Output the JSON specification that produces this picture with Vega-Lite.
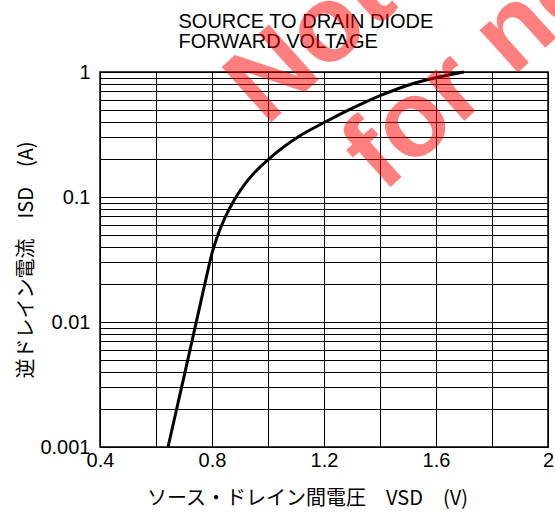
{
  "$schema": "https://vega.github.io/schema/vega-lite/v6.json",
  "autosize": {"type": "none"},
  "padding": {"left": 100, "top": 72, "right": 7, "bottom": 68},
  "width": 448,
  "height": 375,
  "background": "white",
  "config": {
    "view": {"stroke": "black", "strokeWidth": 1.5},
    "axis": {
      "domain": false,
      "ticks": false,
      "grid": true,
      "gridColor": "black",
      "gridOpacity": 1,
      "gridWidth": 1,
      "labelFont": "Liberation Sans",
      "labelFontSize": 20,
      "labelColor": "black",
      "labelFlush": false,
      "labelOverlap": false,
      "labelBound": false,
      "titleFont": "Noto Sans CJK JP",
      "titleFontSize": 20,
      "titleFontWeight": "normal",
      "titleColor": "black"
    }
  },
  "datasets": {
    "curve": [
      {"vsd": 0.643, "isd": 0.001},
      {"vsd": 0.7, "isd": 0.00366},
      {"vsd": 0.75, "isd": 0.0115},
      {"vsd": 0.78, "isd": 0.0229},
      {"vsd": 0.8, "isd": 0.0355},
      {"vsd": 0.82, "isd": 0.049},
      {"vsd": 0.846, "isd": 0.068},
      {"vsd": 0.88, "isd": 0.095},
      {"vsd": 0.929, "isd": 0.137},
      {"vsd": 1.007, "isd": 0.205},
      {"vsd": 1.107, "isd": 0.302},
      {"vsd": 1.204, "isd": 0.398},
      {"vsd": 1.311, "isd": 0.525},
      {"vsd": 1.407, "isd": 0.655},
      {"vsd": 1.525, "isd": 0.817},
      {"vsd": 1.61, "isd": 0.912},
      {"vsd": 1.7, "isd": 1.0}
    ],
    "stamp": [
      {"wx": 0.993, "wy": 0.363, "t": "Not recommended"},
      {"wx": 1.411, "wy": 0.106, "t": "for new design"}
    ]
  },
  "resolve": {"axis": {"x": "independent"}},
  "layer": [
    {
      "data": {"name": "curve"},
      "mark": {"type": "line", "color": "black", "strokeWidth": 3, "interpolate": "monotone"},
      "encoding": {
        "x": {
          "field": "vsd",
          "type": "quantitative",
          "scale": {"domain": [0.4, 2.0], "nice": false, "zero": false},
          "axis": {
            "title": "ソース・ドレイン間電圧　VSD　(V)",
            "values": [0.4, 0.6, 0.8, 1.0, 1.2, 1.4, 1.6, 1.8, 2.0],
            "format": "~g",
            "labelExpr": "indexof([0.4, 0.8, 1.2, 1.6, 2], datum.value) >= 0 ? datum.label : ''",
            "labelPadding": 3,
            "titlePadding": 18,
            "titleX": 207,
            "zindex": 0
          }
        },
        "y": {
          "field": "isd",
          "type": "quantitative",
          "scale": {"type": "log", "domain": [0.001, 1], "nice": false},
          "axis": {
            "title": "逆ドレイン電流　ISD　(A)",
            "values": [0.001, 0.002, 0.003, 0.004, 0.005, 0.006, 0.007, 0.008, 0.009, 0.01, 0.02, 0.03, 0.04, 0.05, 0.06, 0.07, 0.08, 0.09, 0.1, 0.2, 0.3, 0.4, 0.5, 0.6, 0.7, 0.8, 0.9, 1],
            "format": "~g",
            "labelExpr": "indexof([0.001, 0.01, 0.1, 1], datum.value) >= 0 ? datum.label : ''",
            "labelPadding": 10,
            "titlePadding": 3,
            "zindex": 0
          }
        }
      }
    },
    {
      "data": {"name": "stamp"},
      "mark": {
        "type": "text",
        "angle": -42,
        "align": "left",
        "baseline": "alphabetic",
        "font": "Liberation Sans",
        "fontWeight": "bold",
        "fontSize": 108,
        "color": "#ff0000",
        "opacity": 0.5
      },
      "encoding": {
        "x": {
          "field": "wx",
          "type": "quantitative",
          "axis": {
            "orient": "top",
            "labels": false,
            "ticks": false,
            "domain": false,
            "grid": false,
            "zindex": 0,
            "title": ["SOURCE TO DRAIN DIODE", "FORWARD VOLTAGE"],
            "titleFont": "Liberation Sans",
            "titleFontSize": 20,
            "titleLineHeight": 20,
            "titleAlign": "left",
            "titleAnchor": "start",
            "titleBaseline": "alphabetic",
            "titleAngle": 0,
            "titleX": 78,
            "titleY": -45
          }
        },
        "y": {"field": "wy", "type": "quantitative"},
        "text": {"field": "t"}
      }
    }
  ]
}
